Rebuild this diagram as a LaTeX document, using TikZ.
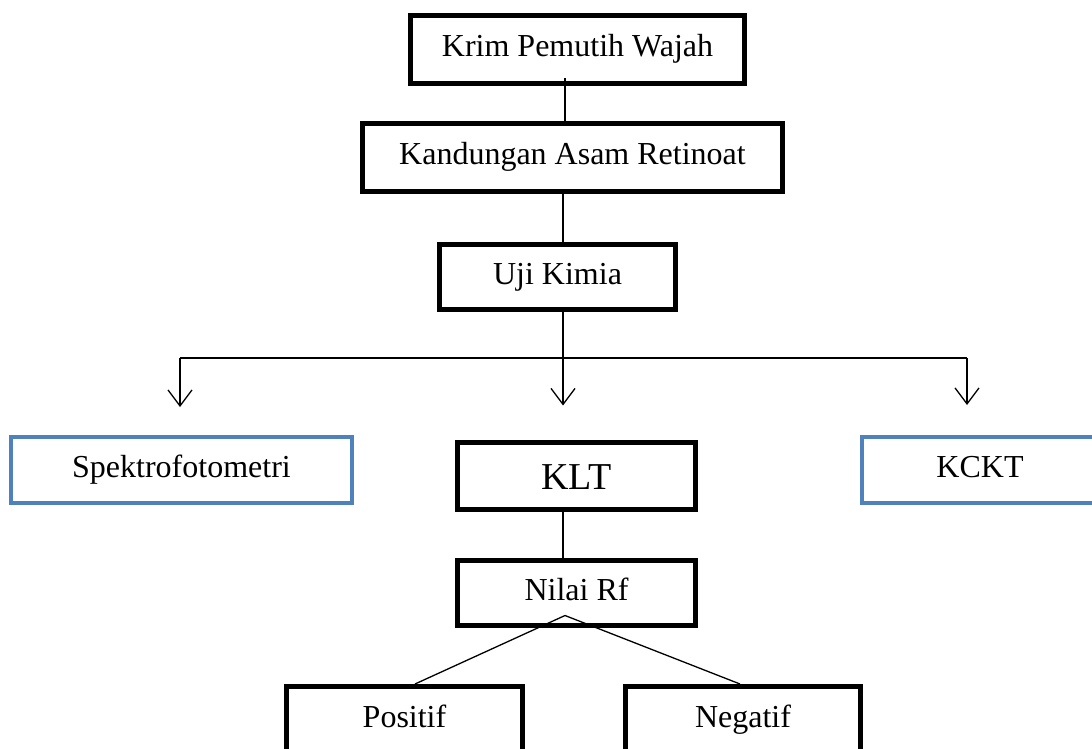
\documentclass[tikz,border=0pt]{standalone}
\usepackage{fontspec}
\setmainfont{Liberation Serif}
\usetikzlibrary{arrows.meta}
\definecolor{boxblue}{RGB}{79,129,189}
\begin{document}
\begin{tikzpicture}[x=1pt,y=-1pt,
  box/.style={draw=black,line width=5pt,rectangle,inner sep=0pt,align=center,
    font=\fontsize{32}{38}\selectfont,text height=22pt,text depth=8pt},
  bluebox/.style={draw=boxblue,line width=4pt,rectangle,inner sep=0pt,align=center,
    font=\fontsize{32}{38}\selectfont,text height=22pt,text depth=8pt},
  conn/.style={line width=1.3pt,draw=black},
  arr/.style={conn,-{Straight Barb[length=16pt,width=24pt]}}]
\useasboundingbox (0,0) rectangle (1092,749);
\clip (0,0) rectangle (1092,749);
% nodes
\node[box,minimum width=334pt,minimum height=68pt] (b1) at (577.5,49.5) {Krim Pemutih Wajah};
\node[box,minimum width=420pt,minimum height=68pt] (b2) at (572.5,157.5) {Kandungan Asam Retinoat};
\node[box,minimum width=236pt,minimum height=65pt] (b3) at (557.5,277) {Uji Kimia};
\node[bluebox,minimum width=341pt,minimum height=66pt] (sp) at (181.5,470) {Spektrofotometri};
\node[box,minimum width=238pt,minimum height=67pt,font=\fontsize{38}{45}\selectfont,text height=30pt,text depth=4pt] (klt) at (576.5,476) {KLT};
\node[bluebox,minimum width=236pt,minimum height=66pt] (kc) at (980,470) {KCKT};
\node[box,minimum width=238pt,minimum height=65pt] (rf) at (576.5,593) {Nilai Rf};
\node[box,minimum width=236pt,minimum height=67pt] (pos) at (404.5,720) {Positif};
\node[box,minimum width=235pt,minimum height=67pt] (neg) at (743,720) {Negatif};
% junction coordinates
\coordinate (j) at (563,358);
\coordinate (jl) at (180,358);
\coordinate (jr) at (967,358);
% connectors
\draw[conn] ([xshift=-12.5pt,yshift=7.5pt]b1.south) -- ([xshift=-7.5pt]b2.north);
\draw[conn] ([xshift=-9.5pt,yshift=2.5pt]b2.south) -- ([xshift=5.5pt]b3.north);
\draw[conn] ([xshift=5.5pt]b3.south) -- (j);
\draw[conn] (jl) -- (jr);
\draw[arr,shorten >=28pt] (jl) -- (jl |- sp.north);
\draw[arr,shorten >=34.5pt] (j) -- (j |- klt.north);
\draw[arr,shorten >=30pt] (jr) -- (jr |- kc.north);
\draw[conn] ([xshift=-13.5pt]klt.south) -- ([xshift=-13.5pt]rf.north);
\draw[conn] ([xshift=-11.5pt,yshift=12.5pt]rf.south) -- ([xshift=10.5pt]pos.north);
\draw[conn] ([xshift=-11.5pt,yshift=12.5pt]rf.south) -- ([xshift=-3pt]neg.north);
\end{tikzpicture}
\end{document}
